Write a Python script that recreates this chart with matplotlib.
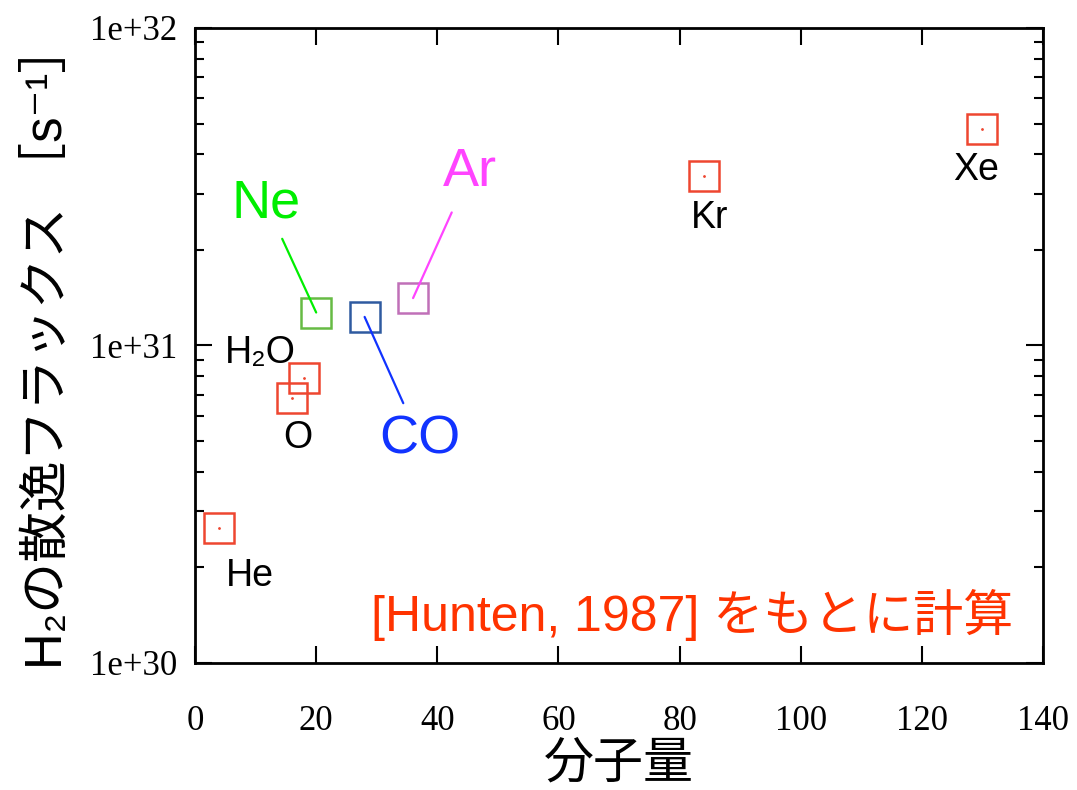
import matplotlib.pyplot as plt
from matplotlib.ticker import LogLocator, NullFormatter, FixedLocator

# Molecular mass vs H2 escape flux (based on Hunten 1987)
red_names = ["He", "O", "H2O", "Kr", "Xe"]
red_mass = [4, 16, 18, 84, 130]
red_flux = [2.66e30, 6.83e30, 7.88e30, 3.43e31, 4.80e31]

ne_mass, ne_flux = 20, 1.27e31
co_mass, co_flux = 28, 1.23e31
ar_mass, ar_flux = 36, 1.41e31

x_ticks = [0, 20, 40, 60, 80, 100, 120, 140]
y_ticks = [1e30, 1e31, 1e32]
y_tick_labels = ["1e+30", "1e+31", "1e+32"]

jp = ["Noto Sans CJK JP", "DejaVu Sans"]
sans = ["Liberation Sans", "DejaVu Sans"]
sans_jp = ["Liberation Sans", "Noto Sans CJK JP", "DejaVu Sans"]
serif = ["Liberation Serif", "DejaVu Serif"]

fig = plt.figure(figsize=(10.77, 7.90), dpi=100)
ax = fig.add_axes([0.1811, 0.1608, 0.7873, 0.8038])

red = "#ee4630"
ax.plot(red_mass, red_flux, "s", ms=21, mfc="none", mec=red, mew=1.8, ls="none")
ax.plot(red_mass, red_flux, ".", ms=2, color=red, ls="none")
ax.plot([ne_mass], [ne_flux], "s", ms=21, mfc="none", mec="#66bb44", mew=1.8)
ax.plot([co_mass], [co_flux], "s", ms=21, mfc="none", mec="#2f5aa0", mew=1.8)
ax.plot([ar_mass], [ar_flux], "s", ms=21, mfc="none", mec="#c070b8", mew=1.8)

ax.set_xlim(0, 140)
ax.set_yscale("log")
ax.set_ylim(1e30, 1e32)

ax.xaxis.set_major_locator(FixedLocator(x_ticks))
ax.set_xticklabels([str(v) for v in x_ticks], family=serif, fontsize=25)
ax.yaxis.set_major_locator(FixedLocator(y_ticks))
ax.set_yticklabels(y_tick_labels, family=serif, fontsize=25)
ax.yaxis.set_minor_locator(LogLocator(base=10, subs=range(2, 10)))
ax.yaxis.set_minor_formatter(NullFormatter())

ax.tick_params(axis="both", which="both", direction="in", top=True, right=True)
ax.tick_params(axis="x", which="major", length=12, width=1.5, pad=30)
ax.tick_params(axis="y", which="major", length=12, width=1.5, pad=13)
ax.tick_params(axis="y", which="minor", length=6.5, width=1.5)
for s in ax.spines.values():
    s.set_linewidth(2)

# black labels for red points
black_labels = {"He": (9.1, 1.88e30), "O": (17.0, 5.11e30), "H2O": (10.7, 9.47e30),
                "Kr": (84.9, 2.52e31), "Xe": (128.9, 3.57e31)}
for name in red_names:
    txt = "H₂O" if name == "H2O" else name
    x, y = black_labels[name]
    ax.text(x, y, txt, family=sans, fontsize=27, ha="center", va="center")

# coloured labels with leader lines
lead = dict(arrowstyle="-", lw=1.6, patchA=None, shrinkB=0)
ax.annotate("Ne", xy=(ne_mass, ne_flux), xytext=(11.7, 2.8e31),
            family=sans, fontsize=39, color="#00ee00", ha="center", va="center",
            arrowprops=dict(lead, color="#00ee00", shrinkA=28))
ax.annotate("Ar", xy=(ar_mass, ar_flux), xytext=(45.4, 3.52e31),
            family=sans, fontsize=39, color="#ff44ff", ha="center", va="center",
            arrowprops=dict(lead, color="#ff44ff", shrinkA=32))
ax.annotate("CO", xy=(co_mass, co_flux), xytext=(37.1, 5.04e30),
            family=sans, fontsize=39, color="#1133ff", ha="center", va="center",
            arrowprops=dict(lead, color="#1133ff", shrinkA=29))

ax.text(0.9646, 0.0756, "[Hunten, 1987] をもとに計算", transform=ax.transAxes,
        family=sans_jp, fontsize=36, color="#ff3300", ha="right", va="center")

ax.set_xlabel("分子量", family=jp, fontsize=36, labelpad=0)
ax.set_ylabel("H₂の散逸フラックス ［s⁻¹］", family=sans_jp, fontsize=36.5, labelpad=12)

fig.savefig("out.png", dpi=100)
